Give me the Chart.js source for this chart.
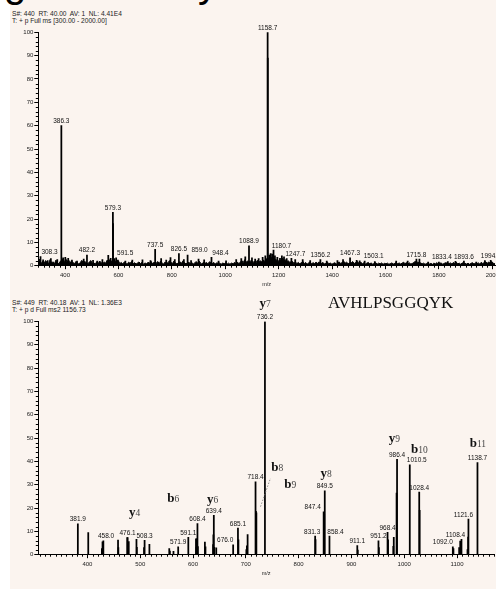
<!DOCTYPE html>
<html><head><meta charset="utf-8">
<script src="https://cdn.jsdelivr.net/npm/chart.js@4.4.1/dist/chart.umd.min.js"></script>
<style>
html,body{margin:0;padding:0;background:#fff;width:496px;height:589px;overflow:hidden;position:relative;font-family:"Liberation Sans",Arial,sans-serif;}
#panel{position:absolute;left:10px;top:0;width:486px;height:589px;background:#FBF4EF;}
.hd{position:absolute;left:12px;font-size:6.6px;line-height:7px;color:#222;white-space:pre;}
.big{position:absolute;font-size:40px;line-height:40px;color:#000;}
canvas{position:absolute;left:0;}
</style></head><body>
<div id="panel"></div>
<div class="big" style="left:4px;top:-37px">g</div>
<div class="big" style="left:198px;top:-37px">y</div>
<div class="hd" style="top:10px">S#: 440  RT: 40.00  AV: 1  NL: 4.41E4</div>
<div class="hd" style="top:16.5px">T: + p Full ms [300.00 - 2000.00]</div>
<div class="hd" style="top:299px">S#: 449  RT: 40.18  AV: 1  NL: 1.36E3</div>
<div class="hd" style="top:305.5px">T: + p d Full ms2 1156.73</div>
<canvas id="c1" width="496" height="290" style="top:0"></canvas>
<canvas id="c2" width="496" height="299" style="top:290px"></canvas>
<script>
// ---------- data ----------
const yTicks = [0,10,20,30,40,50,60,70,80,90,100];
const topXTicks = [400,600,800,1000,1200,1400,1600,1800,2000];
const botXTicks = [400,500,600,700,800,900,1000,1100];

// Full MS (S#440) centroid peaks [m/z, relative intensity]
const topPeaks = [[308.3,3.9],[318,2.5],[335,2.2],[347,3.0],[371,2.6],[386.3,60.0],[393,3.4],[401,3.6],[412,3.2],[426,2.4],[445,2.0],[470,2.8],
 [482.2,4.6],[505,2.3],[521,2.0],[540,2.6],[562.0,4.4],[571,3.2],[579.3,22.9],[579.9,18.0],[585.0,3.0],[591.5,3.4],[598,2.4],[626,2.0],
 [652,2.4],[690,2.5],[720,2.2],[737.5,7.0],[760,3.0],[779,2.4],[795.0,3.5],[811,2.6],[826.5,5.2],[845,2.6],[859.0,4.6],[872,2.2],[900,2.8],
 [921,2.5],[948.4,3.6],[975,2.0],[1003,2.1],[1041,2.6],[1060,3.0],[1075.0,3.8],[1088.9,8.5],[1100,3.4],[1112,2.8],[1125,3.0],[1140,3.6],
 [1150,4.2],[1158.7,100],[1159.3,89.0],[1165,4.6],[1170,5.2],[1175.5,5.0],[1180.7,6.7],[1186,4.2],[1195,3.6],[1205,3.2],[1212.0,4.2],
 [1220,3.8],[1230,3.0],[1247.7,3.2],[1262,2.6],[1290,2.6],[1318,2.2],[1356.2,2.6],[1380,2.0],[1420,2.2],[1441,2.6],[1467.3,3.4],[1492,2.3],
 [1503.1,2.1],[1522,2.0],[1560,1.8],[1640,2.0],[1683,2.0],[1715.8,2.8],[1727.0,2.8],[1760,1.6],[1800,1.6],[1833.4,1.8],[1862,1.9],
 [1893.6,2.0],[1940,1.6],[1972,2.2],[1994.0,2.3]];
const topLabelMz = [308.3,386.3,482.2,579.3,591.5,737.5,826.5,859.0,948.4,1088.9,1158.7,1180.7,1247.7,1356.2,1467.3,1503.1,1715.8,1833.4,1893.6,1994.0];

// Full MS baseline noise
const topNoise = [[300,1.2],[305,2.8],[311,0.8],[316,1.9],[322,1.0],[327,2.2],[333,1.4],[338,0.7],[344,2.6],[350,1.1],[355,1.7],[361,0.9],[366,2.4],[372,1.3],[377,0.8],[383,2.0],[392,2.9],[397,1.2],[403,3.0],[408,1.6],[413,2.7],[419,1.0],[424,2.1],[430,1.3],[436,0.9],[441,1.8],[447,1.1],[452,0.7],[458,1.5],[463,2.3],[469,1.0],[474,1.9],[480,1.2],[486,0.8],[491,1.6],[497,2.2],[502,0.9],[508,1.3],[513,0.6],[519,1.7],[525,1.0],[530,2.0],[536,1.2],[541,0.8],[547,1.6],[552,1.1],[558,2.4],[563,1.3],[569,2.8],[575,1.5],[583,2.6],[588,1.9],[594,1.0],[600,2.1],[605,0.9],[611,1.4],[616,0.7],[622,1.6],[627,1.1],[633,0.6],[638,1.5],[644,1.0],[649,1.8],[655,0.8],[661,1.3],[666,0.7],[672,1.2],[677,1.6],[683,0.9],[688,1.4],[694,0.6],[699,1.2],[705,0.8],[711,1.5],[716,1.0],[722,1.9],[727,0.9],[733,1.4],[742,1.1],[747,1.8],[753,0.9],[758,2.0],[764,1.1],[769,0.7],[775,1.6],[780,1.0],[786,1.3],[791,2.2],[797,1.4],[802,0.9],[808,2.0],[813,1.2],[819,0.8],[831,1.7],[836,1.0],[842,2.1],[847,1.3],[853,0.8],[864,1.5],[869,0.9],[875,1.4],[880,0.7],[886,1.2],[891,1.8],[897,1.0],[902,2.0],[908,1.1],[913,0.6],[919,1.6],[924,1.0],[930,1.4],[935,0.8],[941,1.7],[952,1.0],[957,1.4],[963,0.7],[968,1.3],[974,0.9],[979,1.1],[985,0.6],[990,1.2],[996,0.8],[1001,1.3],[1007,0.7],[1012,1.1],[1018,0.6],[1023,1.2],[1029,0.8],[1034,1.4],[1040,1.0],[1045,1.6],[1051,0.9],[1056,1.5],[1062,2.2],[1067,1.3],[1073,2.6],[1078,1.5],[1084,2.0],[1093,1.8],[1098,2.4],[1104,1.3],[1109,2.0],[1115,1.2],[1120,2.3],[1126,1.4],[1131,2.1],[1137,1.6],[1142,2.5],[1148,1.8],[1153,2.9],[1163,3.2],[1168,2.6],[1172,3.6],[1176,2.4],[1185,3.0],[1190,2.2],[1195,2.8],[1200,1.8],[1205,2.6],[1210,2.0],[1215,3.2],[1220,2.1],[1225,2.6],[1230,1.6],[1235,2.2],[1241,1.5],[1252,1.8],[1257,1.0],[1263,1.6],[1268,0.9],[1274,1.4],[1279,0.8],[1285,1.3],[1290,1.9],[1296,0.9],[1301,1.4],[1307,0.7],[1312,1.2],[1318,1.6],[1323,0.8],[1329,1.3],[1334,0.9],[1340,1.5],[1345,1.0],[1351,1.6],[1361,1.0],[1366,1.4],[1372,0.7],[1377,1.1],[1383,1.5],[1388,0.8],[1394,1.2],[1399,0.6],[1405,1.0],[1410,1.3],[1416,0.7],[1421,1.2],[1427,1.6],[1432,0.9],[1438,1.4],[1443,2.0],[1449,1.1],[1454,1.5],[1460,0.9],[1472,1.3],[1477,1.8],[1483,0.9],[1488,1.4],[1494,1.9],[1499,1.2],[1508,1.5],[1514,0.8],[1519,1.3],[1525,0.7],[1530,1.1],[1536,1.4],[1541,0.8],[1547,1.2],[1552,0.6],[1558,1.0],[1563,1.3],[1569,0.7],[1574,1.1],[1580,0.8],[1585,1.2],[1591,0.6],[1596,1.0],[1602,0.8],[1607,1.1],[1613,0.6],[1618,0.9],[1624,1.2],[1629,0.7],[1635,1.0],[1640,1.4],[1646,0.8],[1651,1.2],[1657,0.7],[1662,1.1],[1668,1.5],[1673,0.9],[1679,1.3],[1684,0.8],[1690,1.2],[1695,0.7],[1701,1.0],[1706,1.4],[1711,1.8],[1720,1.5],[1732,1.2],[1737,0.8],[1743,1.1],[1748,0.6],[1754,0.9],[1759,1.2],[1765,0.7],[1770,1.0],[1776,0.6],[1781,1.1],[1787,0.8],[1792,1.3],[1798,0.7],[1803,1.0],[1809,1.2],[1814,0.6],[1820,1.0],[1825,1.3],[1838,0.9],[1843,1.2],[1849,0.7],[1854,1.4],[1860,0.9],[1865,1.5],[1871,0.8],[1876,1.1],[1882,0.6],[1887,1.2],[1898,1.0],[1904,0.7],[1909,1.1],[1915,0.6],[1920,1.0],[1926,1.3],[1931,0.7],[1937,1.1],[1942,0.8],[1948,1.2],[1953,0.7],[1959,1.5],[1964,0.9],[1970,1.4],[1975,1.7],[1981,1.0],[1986,1.6],[1991,1.2],[1998,1.8],[2004,1.0],[2010,0.8]];

// MS2 of 1156.73 (S#449) centroid peaks [m/z, relative intensity]
const botPeaks = [[381.9,13.2],[401.6,9.5],[427.4,2.6],[428.6,5.5],[430.2,6.0],[458.0,6.3],[458.6,3.0],[475.5,7.3],[476.1,7.3],[478.3,5.6],
 [492.9,6.6],[493.6,3.2],[507.2,3.0],[508.3,6.2],[517.4,4.4],[555.0,2.6],[556.2,1.6],[563.0,1.4],[571.9,3.4],[591.1,7.5],
 [605.6,6.8],[606.3,3.2],[607.2,6.8],[608.4,13.3],[609.2,3.5],[622.5,5.4],[623.6,3.4],[638.0,4.3],[638.6,8.5],[639.4,16.9],
 [640.2,3.2],[644.0,2.9],[676.0,4.2],[685.1,11.4],[686.0,6.4],[701.0,2.2],[702.0,3.8],[703.4,8.6],[718.4,31.3],[719.2,18.6],
 [720.0,18.0],[736.2,100],[831.3,8.0],[832.0,6.5],[847.4,18.4],[848.4,17.5],[849.5,27.4],[858.4,8.0],[911.1,3.9],[912.0,2.0],
 [951.2,5.9],[952.0,3.0],[968.4,9.6],[969.4,6.4],[979.3,3.6],[980.2,7.4],[985.5,26.4],[986.4,40.9],[1010.5,38.5],[1028.4,26.8],
 [1029.2,19.0],[1092.0,3.4],[1093.2,2.6],[1104.0,3.0],[1106.0,5.8],[1108.4,6.6],[1119.8,2.2],[1121.0,7.6],[1121.6,15.3],[1138.7,39.5]];
const botLabelMz = [381.9,458.0,476.1,508.3,571.9,591.1,608.4,639.4,676.0,685.1,718.4,736.2,831.3,847.4,849.5,858.4,911.1,951.2,968.4,986.4,1010.5,1028.4,1092.0,1108.4,1121.6,1138.7];

// fragment-ion annotations: ion name, m/z position, intensity level
const ionNames = ['y4','b6','y6','y7','b8','b9','y8','y9','b10','b11'];
const ionMz    = [489.4,562.4,637.2,736.7,759.5,784.0,852.3,981.2,1028.5,1139.4];
const ionLevel = [16.6,22.7,22.3,106.2,36.0,28.5,33.4,48.5,43.7,46.3];
const b8Leader = [[727.8,20.6],[746.7,32.8]];
const peptide = 'AVHLPSGGQYK';
const peptidePos = [855.5,106.0];

// ---------- rendering ----------
const INK = '#111';
function peakValue(list, m){ let best = null, d = 1e9; for (const p of list) { const dd = Math.abs(p[0]-m); if (dd < d) { d = dd; best = p; } } return best ? best[1] : 0; }

const annot = {
  id: 'annot',
  afterDatasetsDraw(chart, args, o) {
    const ctx = chart.ctx, xs = chart.scales.x, ys = chart.scales.y, ca = chart.chartArea;
    ctx.save();
    // minor ticks
    ctx.strokeStyle = '#000'; ctx.lineWidth = 1;
    ctx.beginPath();
    for (let v = 0; v <= 100; v += 2) {
      if (v % 10 === 0) continue;
      const y = Math.round(ys.getPixelForValue(v)) + 0.5;
      ctx.moveTo(ca.left - 2.5, y); ctx.lineTo(ca.left, y);
    }
    for (let v = Math.ceil(xs.min / o.minorX) * o.minorX; v <= xs.max; v += o.minorX) {
      if (v % o.majorX === 0) continue;
      const x = Math.round(xs.getPixelForValue(v)) + 0.5;
      ctx.moveTo(x, ca.bottom); ctx.lineTo(x, ca.bottom + 2);
    }
    ctx.stroke();
    // peak labels
    ctx.fillStyle = INK;
    ctx.font = '6.5px "Liberation Sans", Arial, sans-serif';
    ctx.textAlign = 'center'; ctx.textBaseline = 'alphabetic';
    for (const m of o.labels) {
      const txt = m.toFixed(1);
      let x = xs.getPixelForValue(m) + (o.nudge[txt] || 0);
      const w = ctx.measureText(txt).width;
      if (x - w / 2 < ca.left + 1) x = ca.left + 1 + w / 2;
      const y = ys.getPixelForValue(peakValue(o.peaks, m)) - 2.5;
      ctx.fillText(txt, x, y);
    }
    // ion annotations
    if (o.ions) {
      ctx.textAlign = 'left';
      for (let i = 0; i < ionNames.length; i++) {
        const letter = ionNames[i][0], num = ionNames[i].slice(1);
        ctx.font = 'bold 13px "Liberation Serif", "Times New Roman", serif';
        const w1 = ctx.measureText(letter).width;
        ctx.font = '9.5px "Liberation Serif", "Times New Roman", serif';
        const w2 = ctx.measureText(num).width;
        const x0 = xs.getPixelForValue(ionMz[i]) - (w1 + w2) / 2;
        const y0 = ys.getPixelForValue(ionLevel[i]);
        ctx.fillStyle = '#111';
        ctx.font = 'bold 13px "Liberation Serif", "Times New Roman", serif';
        ctx.fillText(letter, x0, y0);
        ctx.fillStyle = '#444';
        ctx.font = '9.5px "Liberation Serif", "Times New Roman", serif';
        ctx.fillText(num, x0 + w1, y0);
      }
      // b8 leader
      ctx.strokeStyle = '#777'; ctx.lineWidth = 0.8; ctx.setLineDash([1.5, 1.5]);
      ctx.beginPath();
      ctx.moveTo(xs.getPixelForValue(b8Leader[0][0]), ys.getPixelForValue(b8Leader[0][1]));
      ctx.lineTo(xs.getPixelForValue(b8Leader[1][0]), ys.getPixelForValue(b8Leader[1][1]));
      ctx.stroke(); ctx.setLineDash([]);
      // peptide sequence
      ctx.fillStyle = '#111';
      ctx.font = '17px "Liberation Serif", "Times New Roman", serif';
      ctx.fillText(peptide, xs.getPixelForValue(peptidePos[0]), ys.getPixelForValue(peptidePos[1]));
    }
    ctx.restore();
  }
};

function makeChart(id, peaks, noise, xmin, xmax, xticks, minorX, majorX, labels, padTop, padRight, xH, padBottom, ions, nudge) {
  const datasets = [{
    type: 'bar', label: 'peaks',
    data: peaks.map(p => ({x: p[0], y: p[1]})),
    backgroundColor: '#000', borderWidth: 0, barThickness: 1.1, grouped: false, order: 1
  }];
  if (noise) datasets.push({
    type: 'line', label: 'noise',
    data: noise.map(p => ({x: p[0], y: p[1]})),
    borderColor: '#000', backgroundColor: '#000', borderWidth: 1, pointRadius: 0, fill: 'origin', tension: 0, order: 2
  });
  return new Chart(document.getElementById(id), {
    type: 'bar',
    data: { datasets },
    options: {
      responsive: false, animation: false, events: [],
      layout: { padding: { top: padTop, right: padRight, bottom: padBottom, left: 0 } },
      plugins: { legend: { display: false }, tooltip: { enabled: false },
        annot: { labels, peaks, minorX, majorX, ions, nudge } },
      scales: {
        x: {
          type: 'linear', min: xmin, max: xmax, offset: false,
          afterBuildTicks: s => { s.ticks = xticks.map(v => ({ value: v })); },
          afterFit: s => { s.height = xH; s.paddingLeft = 0; s.paddingRight = 0; },
          grid: { display: true, drawOnChartArea: false, drawTicks: true, tickLength: 3.5, tickColor: '#000', offset: false },
          border: { display: true, color: '#000', width: 1 },
          ticks: { color: '#222', font: { size: 6, family: '"Liberation Sans", Arial, sans-serif' }, padding: 2.5, maxRotation: 0, autoSkip: false,
                   callback: v => String(v) },
          title: { display: true, text: 'm/z', color: '#222', font: { size: 5.6, family: '"Liberation Sans", Arial, sans-serif' }, padding: { top: 0, bottom: 0 } }
        },
        y: {
          type: 'linear', min: 0, max: 100,
          afterBuildTicks: s => { s.ticks = yTicks.map(v => ({ value: v })); },
          afterFit: s => { s.width = 38.3; s.paddingTop = 0; s.paddingBottom = 0; },
          grid: { display: true, drawOnChartArea: false, drawTicks: true, tickLength: 4, tickColor: '#000' },
          border: { display: true, color: '#000', width: 1 },
          ticks: { color: '#222', font: { size: 6, family: '"Liberation Sans", Arial, sans-serif' }, padding: 1, callback: v => String(v) }
        }
      }
    },
    plugins: [annot]
  });
}

makeChart('c1', topPeaks, topNoise, 300, 2010, topXTicks, 20, 200, topLabelMz, 32.3, 1, 22.6, 1.7, false,
  {'308.3': 9, '591.5': 9, '859.0': 12, '948.4': 9, '1180.7': 8, '1247.7': 4, '1503.1': 14, '1833.4': -6});
makeChart('c2', botPeaks, null, 307, 1170, botXTicks, 10, 100, botLabelMz, 31.5, 2, 21.9, 12.4, true,
  {'458.0': -12, '847.4': -11, '1092.0': -10, '1108.4': -6, '1121.6': -5, '1010.5': 7, '676.0': -8, '858.4': 6, '831.3': -3});
</script>
</body></html>
